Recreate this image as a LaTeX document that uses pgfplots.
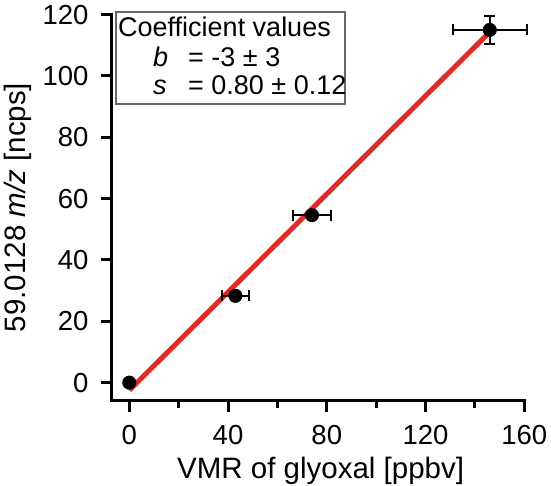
\documentclass[border=0pt]{standalone}
\usepackage{pgfplots}
\pgfplotsset{compat=1.18}
\usepackage{fontspec}
\setmainfont{Liberation Sans}
\definecolor{fitred}{RGB}{222,44,38}
\begin{document}
\begin{tikzpicture}
\useasboundingbox (0,0) rectangle (551pt,486pt);
\begin{axis}[
  at={(112pt,85pt)}, anchor=south west,
  scale only axis,
  width=412.3pt, height=386.4pt,
  xmin=-7, xmax=160, ymin=-6, ymax=120,
  axis x line=bottom, axis y line=left,
  axis line style={-, line width=3pt, line cap=rect},
  xtick={0,40,80,120,160},
  minor xtick={20,60,100,140},
  ytick={0,20,40,60,80,100,120},
  tick align=outside,
  major tick length=11pt, minor tick length=7pt,
  every tick/.style={black, line width=3pt},
  /pgf/number format/assume math mode=true,
  ticklabel style={font=\fontsize{27.5}{31}\selectfont},
  xticklabel style={yshift=-10pt},
  yticklabel style={xshift=-9pt},
  clip=false,
  xlabel={VMR of glyoxal [ppbv]},
  ylabel={59.0128 \textit{m/z} [ncps]},
  xlabel style={at={(axis description cs:0.506,-0.2)}, anchor=base, font=\fontsize{29.5}{33}\selectfont},
  ylabel style={at={(axis description cs:-0.211,0.5008)}, anchor=base, font=\fontsize{29.5}{33}\selectfont},
]
\addplot[fitred, line width=5pt] coordinates {(0,-2.5) (145,113.5)};
\addplot[only marks, mark=*, mark size=6.8pt, mark options={fill=black, draw=black},
  error bars/.cd, x dir=both, x explicit, y dir=both, y explicit,
  error mark=|,
  error bar style={line width=2pt, black},
  error mark options={line width=2pt, mark size=5.5pt, black}]
  coordinates {
  (0,0) +- (0,0)
  (43,28.3) +- (5.5,0)
  (74,54.6) +- (7.6,0)
  (146,115) +- (15,4.6)
  };
\end{axis}
\draw[black!60, line width=1.5pt] (116pt,382pt) rectangle (345pt,474pt);
\node[anchor=base west, inner sep=0pt, font=\fontsize{27}{30}\selectfont] at (118pt,449pt) {Coefficient values};
\node[anchor=base west, inner sep=0pt, font=\fontsize{27}{30}\selectfont] at (153pt,419pt) {\textit{b}};
\node[anchor=base west, inner sep=0pt, font=\fontsize{27}{30}\selectfont] at (188pt,419pt) {= -3 ± 3};
\node[anchor=base west, inner sep=0pt, font=\fontsize{27}{30}\selectfont] at (153pt,391pt) {\textit{s}};
\node[anchor=base west, inner sep=0pt, font=\fontsize{27}{30}\selectfont] at (188pt,391pt) {= 0.80 ± 0.12};
\end{tikzpicture}
\end{document}
